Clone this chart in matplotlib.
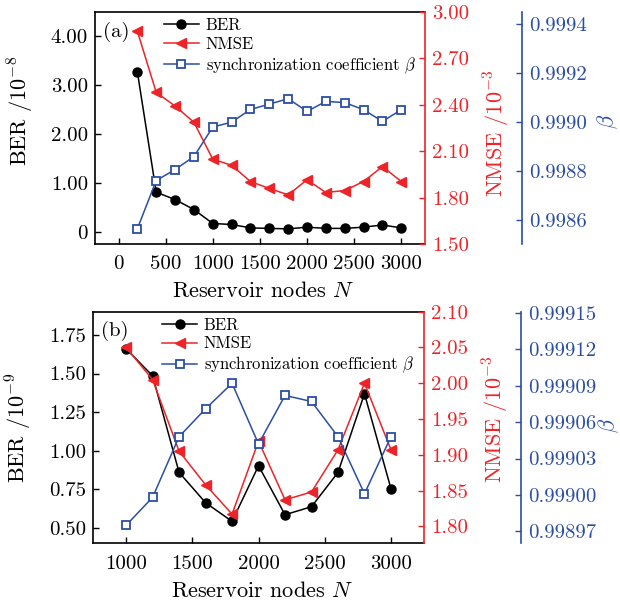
import matplotlib

matplotlib.use("Agg")

import matplotlib.pyplot as plt

plt.rcParams["font.family"] = "serif"
plt.rcParams["font.serif"] = ["cmr10"]
plt.rcParams["mathtext.fontset"] = "cm"
plt.rcParams["axes.unicode_minus"] = False
plt.rcParams["axes.formatter.use_mathtext"] = True

RED = "#ee2328"
BLUE = "#2b4ea3"

# panel (a)
nodes_a = [200, 400, 600, 800, 1000, 1200, 1400, 1600, 1800, 2000, 2200, 2400, 2600, 2800, 3000]
ber_a = [3.27, 0.81, 0.66, 0.455, 0.17, 0.15, 0.08, 0.07, 0.06, 0.095, 0.07, 0.07, 0.095, 0.14, 0.08]
nmse_a = [2.875, 2.48, 2.392, 2.287, 2.048, 2.009, 1.904, 1.859, 1.818, 1.915, 1.833, 1.846, 1.904, 2.001, 1.904]
beta_a = [0.998563, 0.99876, 0.998805, 0.998858, 0.998979, 0.998999, 0.999051, 0.999073,
          0.999095, 0.999043, 0.999084, 0.999079, 0.99905, 0.999002, 0.99905]

x_ticks_a = [0, 500, 1000, 1500, 2000, 2500, 3000]
ber_ticks_a = [0, 1.0, 2.0, 3.0, 4.0]
ber_tick_labels_a = ["0", "1.00", "2.00", "3.00", "4.00"]
nmse_ticks_a = [1.5, 1.8, 2.1, 2.4, 2.7, 3.0]
beta_ticks_a = [0.9986, 0.9988, 0.9990, 0.9992, 0.9994]
beta_tick_labels_a = ["0.9986", "0.9988", "0.9990", "0.9992", "0.9994"]

# panel (b)
nodes_b = [1000, 1200, 1400, 1600, 1800, 2000, 2200, 2400, 2600, 2800, 3000]
ber_b = [1.66, 1.485, 0.86, 0.664, 0.543, 0.903, 0.586, 0.638, 0.86, 1.369, 0.754]
nmse_b = [2.050, 2.005, 1.905, 1.858, 1.817, 1.919, 1.837, 1.848, 1.907, 2.000, 1.907]
beta_b = [0.998975, 0.998998, 0.999048, 0.999071, 0.999092, 0.999042, 0.999082, 0.999077,
          0.999048, 0.999001, 0.999048]

x_ticks_b = [1000, 1500, 2000, 2500, 3000]
ber_ticks_b = [0.50, 0.75, 1.00, 1.25, 1.50, 1.75]
ber_tick_labels_b = ["0.50", "0.75", "1.00", "1.25", "1.50", "1.75"]
nmse_ticks_b = [1.80, 1.85, 1.90, 1.95, 2.00, 2.05, 2.10]
beta_ticks_b = [0.99897, 0.99900, 0.99903, 0.99906, 0.99909, 0.99912, 0.99915]
beta_tick_labels_b = ["0.99897", "0.99900", "0.99903", "0.99906", "0.99909", "0.99912", "0.99915"]

TICK_FS = 15
LABEL_FS = 16


def style_ticks(axis_obj, color):
    axis_obj.tick_params(direction="in", length=4, width=1.0, colors=color,
                         labelsize=TICK_FS, pad=5)


def draw_panel(fig, rect, tag, nodes, ber, nmse, beta, xlim, ber_lim, nmse_lim, beta_lim,
               x_ticks, ber_ticks, ber_tick_labels, nmse_ticks, beta_ticks, beta_tick_labels,
               ber_exp, label_y, beta_label_x):
    ax = fig.add_axes(rect)
    par1 = ax.twinx()
    par2 = ax.twinx()
    par2.spines["right"].set_position(("axes", 1.294))
    for name in ("top", "left", "bottom"):
        par1.spines[name].set_visible(False)
        par2.spines[name].set_visible(False)
    ax.spines["right"].set_visible(False)
    for sp in ax.spines.values():
        sp.set_linewidth(1.2)
    par1.spines["right"].set_color(RED)
    par1.spines["right"].set_linewidth(1.2)
    par2.spines["right"].set_color(BLUE)
    par2.spines["right"].set_linewidth(1.2)

    l1, = ax.plot(nodes, ber, "-o", color="black", lw=1.1, ms=6.5, label="BER")
    l2, = par1.plot(nodes, nmse, "-<", color=RED, lw=1.1, ms=7.5, label="NMSE")
    l3, = par2.plot(nodes, beta, "-s", color=BLUE, lw=1.1, ms=5.5, mfc="white", mec=BLUE,
                    mew=1.3, label=r"synchronization coefficient $\beta$")

    ax.set_xlim(*xlim)
    ax.set_ylim(*ber_lim)
    par1.set_ylim(*nmse_lim)
    par2.set_ylim(*beta_lim)

    ax.set_xticks(x_ticks, [str(v) for v in x_ticks])
    ax.set_yticks(ber_ticks, ber_tick_labels)
    par1.set_yticks(nmse_ticks, [f"{v:.2f}" for v in nmse_ticks])
    par2.set_yticks(beta_ticks, beta_tick_labels)
    ax.minorticks_off()
    par1.minorticks_off()
    par2.minorticks_off()

    style_ticks(ax, "black")
    ax.tick_params(axis="x", pad=8)
    style_ticks(par1, RED)
    style_ticks(par2, BLUE)

    ax.set_xlabel(r"Reservoir nodes $N$", fontsize=LABEL_FS)
    ax.xaxis.set_label_coords(0.51, -0.16)
    ax.set_ylabel(r"BER /10$^{%s}$" % ber_exp, fontsize=LABEL_FS)
    ax.yaxis.set_label_coords(-0.178, label_y[0])
    par1.set_ylabel(r"NMSE /10$^{-3}$", fontsize=LABEL_FS, color=RED)
    par1.yaxis.set_label_coords(1.173, label_y[1])
    par2.set_ylabel(r"$\beta$", fontsize=LABEL_FS, color=BLUE)
    par2.yaxis.set_label_coords(beta_label_x, label_y[2])

    ax.text(0.025, 0.915, tag, transform=ax.transAxes, fontsize=15, va="center", ha="left")

    par2.legend(handles=[l1, l2, l3], loc="upper left", bbox_to_anchor=(0.209, 0.975),
                bbox_transform=ax.transAxes, frameon=False, fontsize=12, borderpad=0,
                borderaxespad=0, handlelength=2.1, handletextpad=0.4, labelspacing=0.2)


fig = plt.figure(figsize=(6.2, 6.0), dpi=100)

draw_panel(fig, [0.1532, 0.5933, 0.532, 0.3867], "(a)", nodes_a, ber_a, nmse_a, beta_a,
           (-250, 3250), (-0.25, 4.5), (1.5, 3.0), (0.9985, 0.99945),
           x_ticks_a, ber_ticks_a, ber_tick_labels_a, nmse_ticks_a, beta_ticks_a,
           beta_tick_labels_a, "-8", (0.573, 0.478, 0.53), 1.518)

draw_panel(fig, [0.150, 0.0942, 0.534, 0.3863], "(b)", nodes_b, ber_b, nmse_b, beta_b,
           (750, 3250), (0.40, 1.90), (1.776, 2.10), (0.99896, 0.999151),
           x_ticks_b, ber_ticks_b, ber_tick_labels_b, nmse_ticks_b, beta_ticks_b,
           beta_tick_labels_b, "-9", (0.5, 0.537, 0.51), 1.52)

fig.savefig("out.png", dpi=100)
